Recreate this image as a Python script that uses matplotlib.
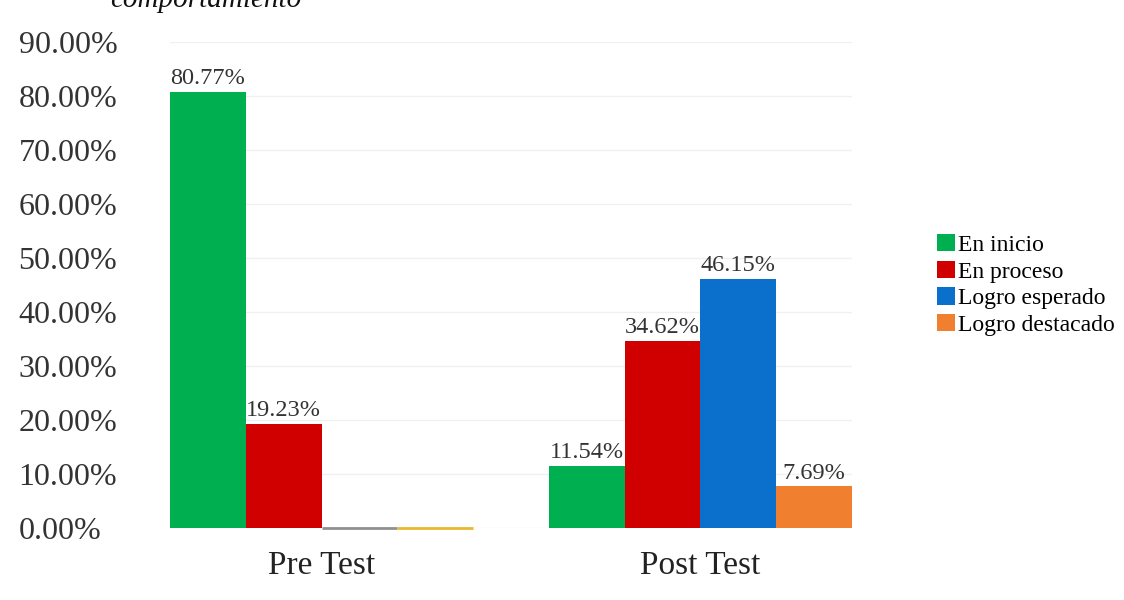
import matplotlib
matplotlib.use("Agg")
import matplotlib.pyplot as plt
import numpy as np

categories = ["Pre Test", "Post Test"]
series_names = ["En inicio", "En proceso", "Logro esperado", "Logro destacado"]
en_inicio = [80.77, 11.54]
en_proceso = [19.23, 34.62]
logro_esperado = [0.0, 46.15]
logro_destacado = [0.0, 7.69]
yticks = [0, 10, 20, 30, 40, 50, 60, 70, 80, 90]

series = [en_inicio, en_proceso, logro_esperado, logro_destacado]
colors = ["#00B050", "#D00000", "#0A70CC", "#F08030"]
zero_colors = ["#00B050", "#D00000", "#909090", "#E8B830"]

plt.rcParams['font.family'] = ['Liberation Serif', 'DejaVu Serif']

fig = plt.figure(figsize=(11.24, 6.0), dpi=100)
ax = fig.add_axes([170/1124, 72/600, (852-170)/1124, 486/600])

x = np.arange(len(categories))
w = 0.2
for i, (vals, c, zc, name) in enumerate(zip(series, colors, zero_colors, series_names)):
    pos = x + (i - 1.5) * w
    ax.bar(pos, vals, width=w, color=c, label=name, zorder=3)
    for p, v in zip(pos, vals):
        if v > 0:
            ax.text(p, v + 0.5, f"{v:.2f}%", ha="center", va="bottom", fontsize=17.5,
                    color="#333333", zorder=4)
        else:
            ax.plot([p - w / 2, p + w / 2], [v, v], color=zc, linewidth=2, zorder=4,
                    solid_capstyle="butt", clip_on=False)

ax.set_xlim(-0.4, 1.4)
ax.set_ylim(0, 90)
ax.set_yticks(yticks)
ax.set_yticklabels([f"{t:.2f}%" for t in yticks], fontsize=23, color="#333333", ha="left")
ax.set_xticks(x)
ax.set_xticklabels(categories, fontsize=24, color="#222222")
ax.tick_params(axis='both', length=0)
ax.tick_params(axis='y', pad=109)
ax.tick_params(axis='x', pad=16)
ax.grid(axis='y', color="#f0f0f0", linewidth=1, zorder=0)
for s in ax.spines.values():
    s.set_visible(False)

leg = fig.legend(loc="center left", bbox_to_anchor=(937/1124, 0.525), frameon=False,
                 fontsize=17, handlelength=0.75, handleheight=0.75, handletextpad=0.15,
                 labelspacing=0.2, borderaxespad=0, borderpad=0)

fig.text(110/1124, 1.0, "comportamiento", fontsize=21, style="italic", ha="left",
         va="center", color="#111111")

fig.savefig("out.png", dpi=100, facecolor="white")
